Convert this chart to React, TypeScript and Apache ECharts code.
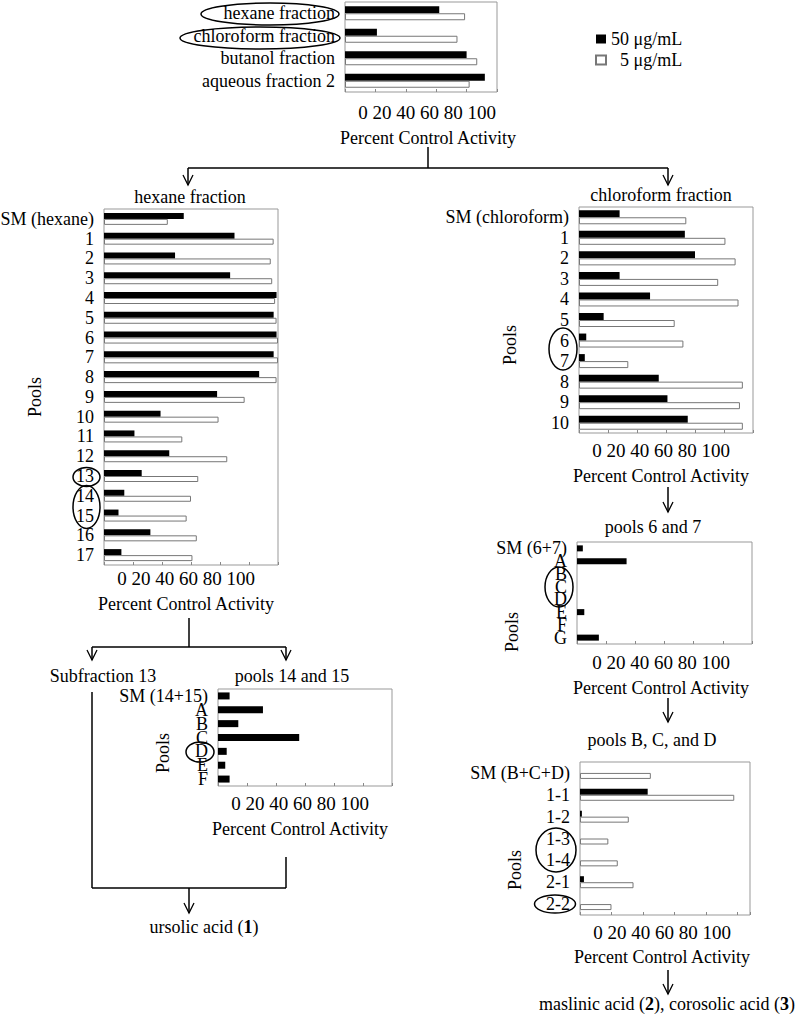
import React, { useEffect, useRef } from "react";
import * as echarts from "echarts";

const FONT = "'Liberation Serif', 'Times New Roman', Times, serif";

// ---------- data ----------
const tickLabels = ["0", "20", "40", "60", "80", "100"];
const axisTitle = "Percent Control Activity";
const poolsTitle = "Pools";
const seriesNames = ["50 μg/mL", "5 μg/mL"];

const topCats = ["hexane fraction", "chloroform fraction", "butanol fraction", "aqueous fraction 2"];
const top50 = [62, 21, 80, 92];
const top5 = [79, 74, 87, 82];

const hexCats = ["SM (hexane)", "1", "2", "3", "4", "5", "6", "7", "8", "9", "10", "11", "12", "13", "14", "15", "16", "17"];
const hex50 = [55, 90, 49, 87, 119, 117, 119, 117, 107, 78, 39, 21, 45, 26, 14, 10, 32, 12];
const hex5 = [44, 117, 115, 116, 118, 119, 120, 120, 119, 97, 79, 54, 85, 65, 60, 57, 64, 61];

const chlCats = ["SM (chloroform)", "1", "2", "3", "4", "5", "6", "7", "8", "9", "10"];
const chl50 = [28, 73, 80, 28, 49, 17, 5, 4, 55, 61, 75];
const chl5 = [74, 101, 108, 96, 110, 66, 72, 34, 113, 111, 113];

const p1415Cats = ["SM (14+15)", "A", "B", "C", "D", "E", "F"];
const p1415_50 = [8, 31, 14, 56, 6, 5, 8];

const p67Cats = ["SM (6+7)", "A", "B", "C", "D", "E", "F", "G"];
const p67_50 = [4, 34, null, null, null, 5, null, 15];

const bcdCats = ["SM (B+C+D)", "1-1", "1-2", "1-3", "1-4", "2-1", "2-2"];
const bcd50 = [null, 43, 1.2, null, null, 2.5, null];
const bcd5 = [45, 98, 31, 18, 24, 34, 20];

const panelTitles = ["hexane fraction", "chloroform fraction", "Subfraction 13", "pools 14 and 15", "pools 6 and 7", "pools B, C, and D"];

// ---------- helpers ----------
const txt = (text: string, x: number, y: number, o: any = {}) => ({
  type: "text",
  x,
  y,
  rotation: o.rotation || 0,
  z: 10,
  style: {
    text,
    font: `${o.size || 18}px ${FONT}`,
    fill: "#000",
    align: o.align || "center",
    verticalAlign: "middle",
    textAlign: o.align || "center",
    textVerticalAlign: "middle",
    rich: o.rich,
  },
});
const ln = (x1: number, y1: number, x2: number, y2: number) => ({
  type: "line",
  z: 10,
  shape: { x1, y1, x2, y2 },
  style: { stroke: "#000", lineWidth: 1.5 },
});
const arrowHead = (x: number, y: number) => ({
  type: "polyline",
  z: 10,
  shape: { points: [[x - 5, y - 10], [x, y], [x + 5, y - 10]] },
  style: { stroke: "#000", lineWidth: 1.3, fill: "none" },
});
const ell = (cx: number, cy: number, rx: number, ry: number) => ({
  type: "ellipse",
  z: 10,
  shape: { cx, cy, rx, ry },
  style: { fill: "none", stroke: "#000", lineWidth: 1.5 },
});

export default function App() {
  const ref = useRef<HTMLDivElement>(null);
  useEffect(() => {
    if (!ref.current) return;
    const chart = echarts.init(ref.current, null, { renderer: "svg" });

    const gridRects = [
      { left: 345, top: 2, width: 152, height: 90 },
      { left: 104, top: 209, width: 174, height: 356 },
      { left: 579, top: 207, width: 174, height: 226 },
      { left: 218, top: 689, width: 174, height: 97 },
      { left: 577, top: 542, width: 175, height: 102 },
      { left: 580, top: 762, width: 170, height: 153 },
    ];
    const maxes = [100, 120, 120, 120, 120, 108];
    const cats = [topCats, hexCats, chlCats, p1415Cats, p67Cats, bcdCats];
    const barW = [7, 6, 7, 7, 6, 6];

    const grid = gridRects.map((g) => ({
      ...g,
      show: true,
      borderColor: "#999",
      borderWidth: 1,
      backgroundColor: "transparent",
      containLabel: false,
      outerBoundsMode: "none",
    }));
    const xAxis = gridRects.map((_, i) => ({
      type: "value",
      gridIndex: i,
      min: 0,
      max: maxes[i],
      interval: 20,
      axisLabel: { show: false },
      axisLine: { show: false },
      axisTick: { show: true, inside: true, length: 3, lineStyle: { color: "#888" } },
      splitLine: { show: false },
    }));
    const yAxis = gridRects.map((_, i) => ({
      type: "category",
      gridIndex: i,
      data: cats[i],
      inverse: true,
      axisLine: { show: false },
      axisTick: { show: false },
      axisLabel: { interval: 0, fontSize: 18, color: "#000", fontFamily: FONT, margin: 10 },
    }));

    const black = (i: number, data: any[]) => ({
      type: "bar",
      name: seriesNames[0],
      xAxisIndex: i,
      yAxisIndex: i,
      data,
      barWidth: barW[i],
      barGap: "0%",
      itemStyle: { color: "#000" },
    });
    const white = (i: number, data: any[]) => ({
      type: "bar",
      name: seriesNames[1],
      xAxisIndex: i,
      yAxisIndex: i,
      data,
      barWidth: barW[i],
      barGap: "0%",
      itemStyle: { color: "#fff", borderColor: "#777", borderWidth: 1 },
    });

    const series = [
      black(0, top50), white(0, top5),
      black(1, hex50), white(1, hex5),
      black(2, chl50), white(2, chl5),
      black(3, p1415_50),
      black(4, p67_50),
      black(5, bcd50), white(5, bcd5),
    ];

    const ticks = tickLabels.join(" ");
    const T = { size: 19 };
    const bold = { b: { fontWeight: "bold", fontSize: 18, fontFamily: FONT } };
    const graphic: any[] = [
      // top panel
      txt(ticks, 427, 112, T), txt(axisTitle, 428, 138),
      ell(270, 14, 69, 11), ell(260, 38, 80, 11),
      ln(428, 147, 428, 168), ln(188, 168, 668, 168),
      ln(188, 168, 188, 185), arrowHead(188, 185),
      ln(668, 168, 668, 185), arrowHead(668, 185),
      // hexane panel
      txt(panelTitles[0], 190, 197), txt(ticks, 186, 578, T), txt(axisTitle, 186, 604),
      txt(poolsTitle, 35, 397, { rotation: Math.PI / 2 }),
      ell(86.5, 477, 13.5, 9.5), ell(86.5, 507, 13.5, 21.5),
      ln(189, 618, 189, 647), ln(92, 647, 286, 647),
      ln(92, 647, 92, 660), arrowHead(92, 660),
      ln(286, 647, 286, 660), arrowHead(286, 660),
      txt(panelTitles[2], 103, 676), txt(panelTitles[3], 292, 676),
      // pools 14/15
      txt(ticks, 300, 803, T), txt(axisTitle, 300, 829),
      txt(poolsTitle, 163, 753, { rotation: Math.PI / 2 }),
      ell(200, 752, 14, 10),
      ln(92, 692, 92, 888), ln(92, 888, 286, 888), ln(286, 857, 286, 888),
      ln(189, 888, 189, 913), arrowHead(189, 913),
      txt("ursolic acid ({b|1})", 204, 927, { rich: bold }),
      // chloroform panel
      txt(panelTitles[1], 661, 195), txt(ticks, 661, 450, T), txt(axisTitle, 661, 476),
      txt(poolsTitle, 510, 345, { rotation: Math.PI / 2 }),
      ell(563, 349, 14, 21),
      ln(668, 487, 668, 512), arrowHead(668, 512),
      // pools 6/7
      txt(panelTitles[4], 653, 527), txt(ticks, 661, 662, T), txt(axisTitle, 661, 688),
      txt(poolsTitle, 512, 632, { rotation: Math.PI / 2 }),
      ell(559, 587, 14, 20),
      ln(668, 698, 668, 722), arrowHead(668, 722),
      // pools B,C,D
      txt(panelTitles[5], 652, 740), txt(ticks, 662, 932, T), txt(axisTitle, 662, 957),
      txt(poolsTitle, 515, 870, { rotation: Math.PI / 2 }),
      ell(556, 850, 20, 22), ell(555, 904, 20.5, 9),
      ln(668, 970, 668, 994), arrowHead(668, 994),
      txt("maslinic acid ({b|2}), corosolic acid ({b|3})", 539, 1004, { align: "left", rich: bold }),
    ];

    chart.setOption({
      animation: false,
      backgroundColor: "#fff",
      textStyle: { fontFamily: FONT },
      legend: {
        data: seriesNames,
        orient: "vertical",
        left: 590,
        top: 25,
        itemWidth: 10,
        itemHeight: 9,
        itemGap: 3,
        icon: "rect",
        textStyle: { fontSize: 18, color: "#000", fontFamily: FONT },
        formatter: (n: string) => (n === seriesNames[1] ? "\u2007" + n : n),
        selectedMode: false,
      },
      grid,
      xAxis,
      yAxis,
      series,
      graphic,
    } as any);
    return () => chart.dispose();
  }, []);
  return (
    <div
      ref={ref}
      style={{ position: "fixed", left: 0, top: 0, width: 800, height: 1020, background: "#fff" }}
    />
  );
}
